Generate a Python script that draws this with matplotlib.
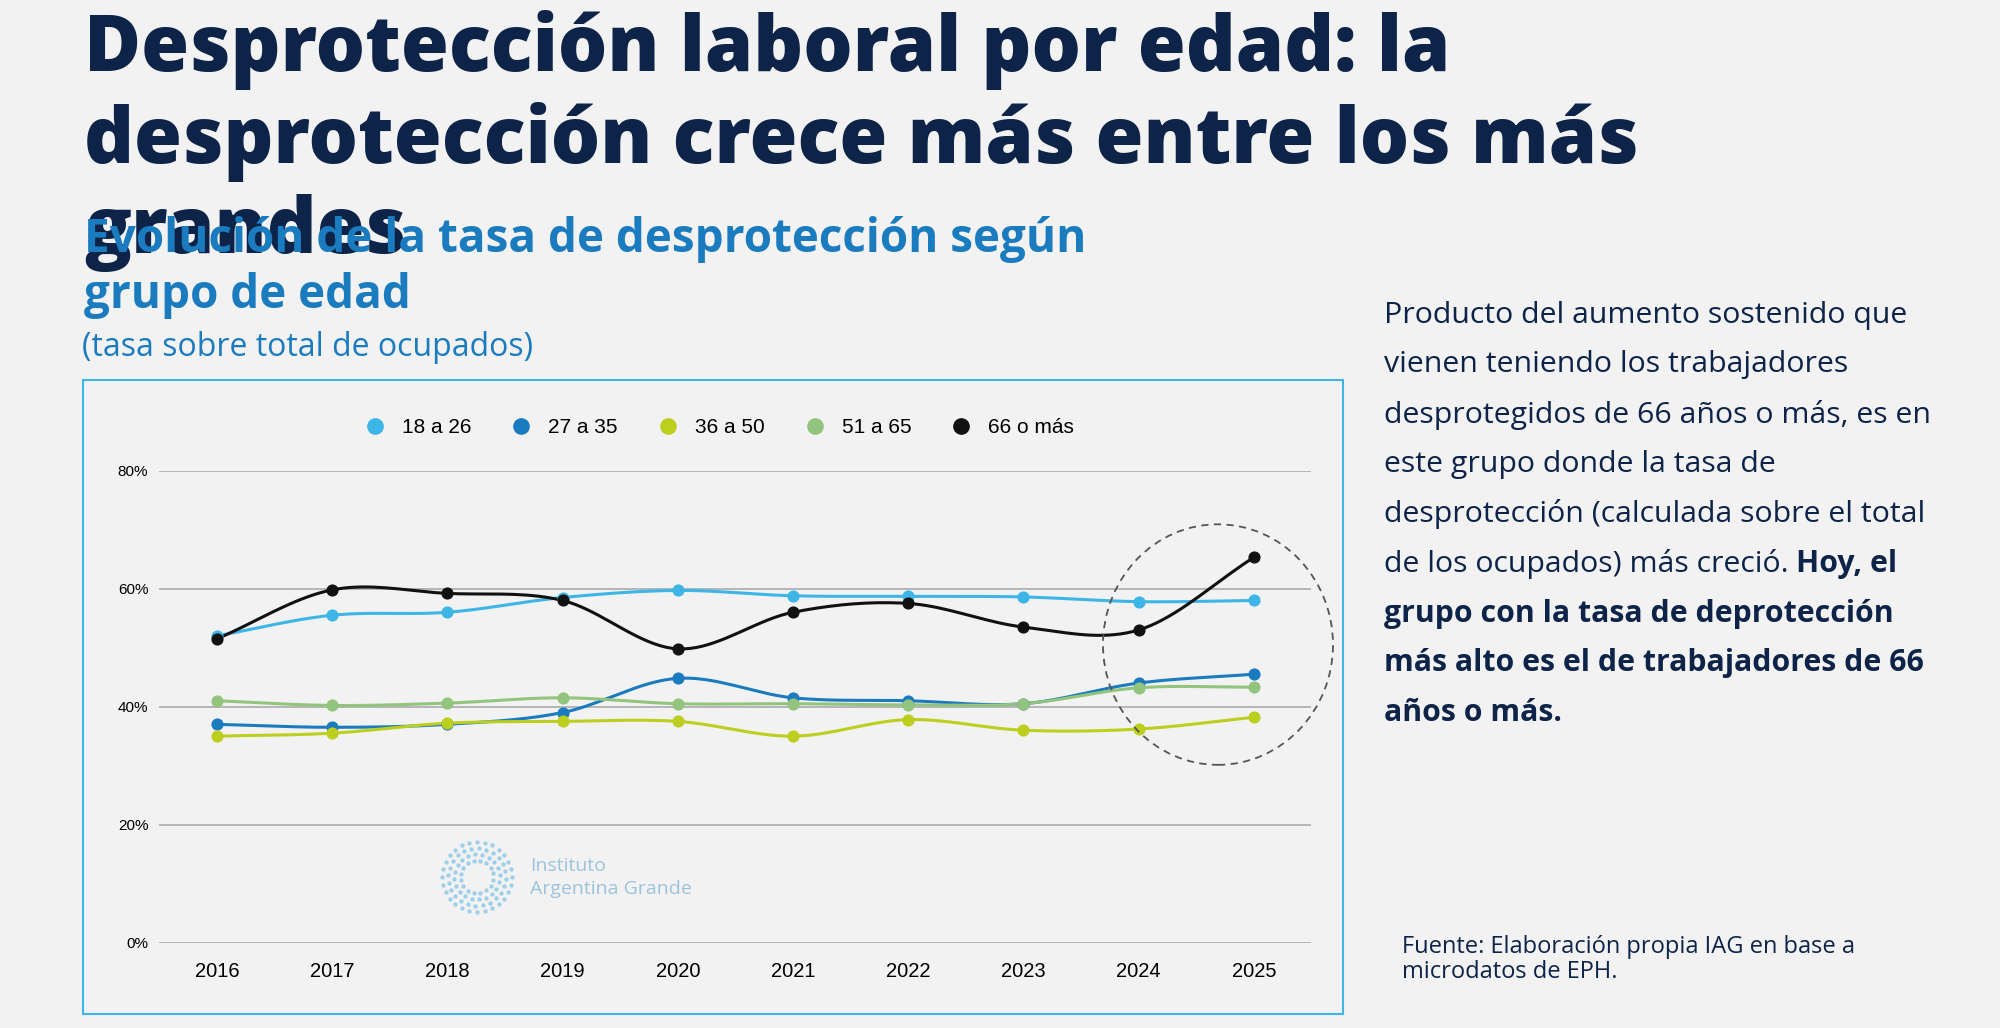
import numpy as np
import matplotlib
matplotlib.use('Agg')
import matplotlib.pyplot as plt
from matplotlib.patches import Rectangle, Ellipse
from matplotlib.lines import Line2D

years = [2016, 2017, 2018, 2019, 2020, 2021, 2022, 2023, 2024, 2025]
groups = ['18 a 26', '27 a 35', '36 a 50', '51 a 65', '66 o más']
colors = ['#3db5e6', '#1a7bbf', '#bccf1e', '#93c47d', '#111111']
g18_26 = [52, 55.5, 56, 58.5, 59.7, 58.8, 58.7, 58.6, 57.8, 58]
g27_35 = [37, 36.5, 37, 39, 44.8, 41.5, 41, 40.5, 44, 45.5]
g36_50 = [35, 35.5, 37.2, 37.5, 37.5, 35, 37.8, 36, 36.2, 38.2]
g51_65 = [41, 40.2, 40.6, 41.5, 40.5, 40.5, 40.3, 40.5, 43.2, 43.3]
g66 = [51.5, 59.8, 59.2, 58, 49.8, 56, 57.5, 53.5, 53, 65.3]
series = [g18_26, g27_35, g36_50, g51_65, g66]

body_lines = ['Producto del aumento sostenido que', 'vienen teniendo los trabajadores',
              'desprotegidos de 66 años o más, es en', 'este grupo donde la tasa de',
              'desprotección (calculada sobre el total', 'de los ocupados) más creció. ']
bold_lines = ['grupo con la tasa de deprotección', 'más alto es el de trabajadores de 66',
              'años o más.']

def smooth(x, y, n=20):
    # Catmull-Rom curve through the points, for the rounded look of the lines
    x = np.asarray(x, float); y = np.asarray(y, float)
    px = np.concatenate([[2*x[0]-x[1]], x, [2*x[-1]-x[-2]]])
    py = np.concatenate([[2*y[0]-y[1]], y, [2*y[-1]-y[-2]]])
    xs, ys = [], []
    t = np.linspace(0, 1, n)
    for i in range(1, len(px)-2):
        for p, out in ((px, xs), (py, ys)):
            p0, p1, p2, p3 = p[i-1], p[i], p[i+1], p[i+2]
            out.extend(0.5*(2*p1 + (-p0+p2)*t + (2*p0-5*p1+4*p2-p3)*t**2 + (-p0+3*p1-3*p2+p3)*t**3))
    return xs, ys

bg = '#f2f2f2'
navy = '#0d2348'
fig = plt.figure(figsize=(20, 10.28), dpi=100, facecolor=bg)
plt.rcParams['font.family'] = ['Open Sans', 'DejaVu Sans']

fig.text(0.042, 0.99, 'Desprotección laboral por edad: la\ndesprotección crece más entre los más\ngrandes',
         fontsize=56, fontweight='heavy', color=navy, va='top', linespacing=1.2)
fig.text(0.042, 0.79, 'Evolución de la tasa de desprotección según\ngrupo de edad',
         fontsize=33, fontweight='bold', color='#1a7bbf', va='top', linespacing=1.25)
fig.text(0.041, 0.662, '(tasa sobre total de ocupados)', fontsize=23, color='#1a7bbf', va='center')

fig.patches.append(Rectangle((0.0415, 0.0136), 0.630, 0.6166, transform=fig.transFigure,
                             fill=False, edgecolor='#3db5e6', linewidth=1.5))

ax = fig.add_axes([0.0797, 0.0831, 0.576, 0.459])
ax.set_facecolor(bg)
for vals, c in zip(series, colors):
    sx, sy = smooth(years, vals)
    ax.plot(sx, sy, color=c, linewidth=2.2, zorder=3)
    ax.scatter(years, vals, color=c, s=60, zorder=4)
ax.set_xlim(2015.5, 2025.5)
ax.set_ylim(0, 80)
ax.set_yticks([0, 20, 40, 60, 80])
ax.set_yticklabels(['0%', '20%', '40%', '60%', '80%'], fontsize=11, family='Liberation Sans')
ax.set_xticks(years)
ax.set_xticklabels([str(y) for y in years], fontsize=14.5, family='Liberation Sans')
ax.grid(axis='y', color='#aaaaaa', linewidth=1.2)
ax.tick_params(length=0, pad=14)
ax.tick_params(axis='y', pad=8)
for s in ax.spines.values():
    s.set_visible(False)
ax.set_axisbelow(True)

handles = [Line2D([], [], marker='o', linestyle='', color=c, markersize=11) for c in colors]
fig.legend(handles, groups, loc='center', bbox_to_anchor=(0.357, 0.584), ncol=5, frameon=False,
           prop={'family': 'Liberation Sans', 'size': 15}, handletextpad=0.3, columnspacing=1.4)

fig.patches.append(Ellipse((0.609, 0.373), 0.115, 0.234, transform=fig.transFigure, fill=False,
                           edgecolor='#555555', linestyle=(0, (4, 3)), linewidth=1.3))

# watermark logo
for k, r in enumerate([0.034, 0.028, 0.022, 0.016]):
    ang = np.linspace(0, 2*np.pi, 28 - 4*k, endpoint=False) + k*0.2
    fig.add_artist(Line2D(0.2385 + r*np.cos(ang)*0.514, 0.147 + r*np.sin(ang), marker='o', linestyle='',
                          markersize=2.2, color='#8cc8e8', alpha=0.7, transform=fig.transFigure))
fig.text(0.265, 0.158, 'Instituto', fontsize=14, color='#9cc3dc', va='center')
fig.text(0.265, 0.135, 'Argentina Grande', fontsize=14, color='#9cc3dc', va='center')

# right-hand text, one line at a time
fs = 21.8
x0 = 0.692
y0 = 0.6935
pitch = 0.0484
fig.canvas.draw()
r = fig.canvas.get_renderer()
for i, line in enumerate(body_lines):
    t = fig.text(x0, y0 - i*pitch, line, fontsize=fs, color=navy, va='center')
xh = t.get_window_extent(r).x1 / fig.bbox.width
fig.text(xh, y0 - 5*pitch, 'Hoy, el', fontsize=fs, color=navy, fontweight='bold', va='center')
for i, line in enumerate(bold_lines):
    fig.text(x0, y0 - (6+i)*pitch, line, fontsize=fs, color=navy, fontweight='bold', va='center')

fig.text(0.701, 0.09, 'Fuente: Elaboración propia IAG en base a\nmicrodatos de EPH.',
         fontsize=17, color=navy, va='top', linespacing=1.05)

fig.savefig('out.png', dpi=100, facecolor=bg)
